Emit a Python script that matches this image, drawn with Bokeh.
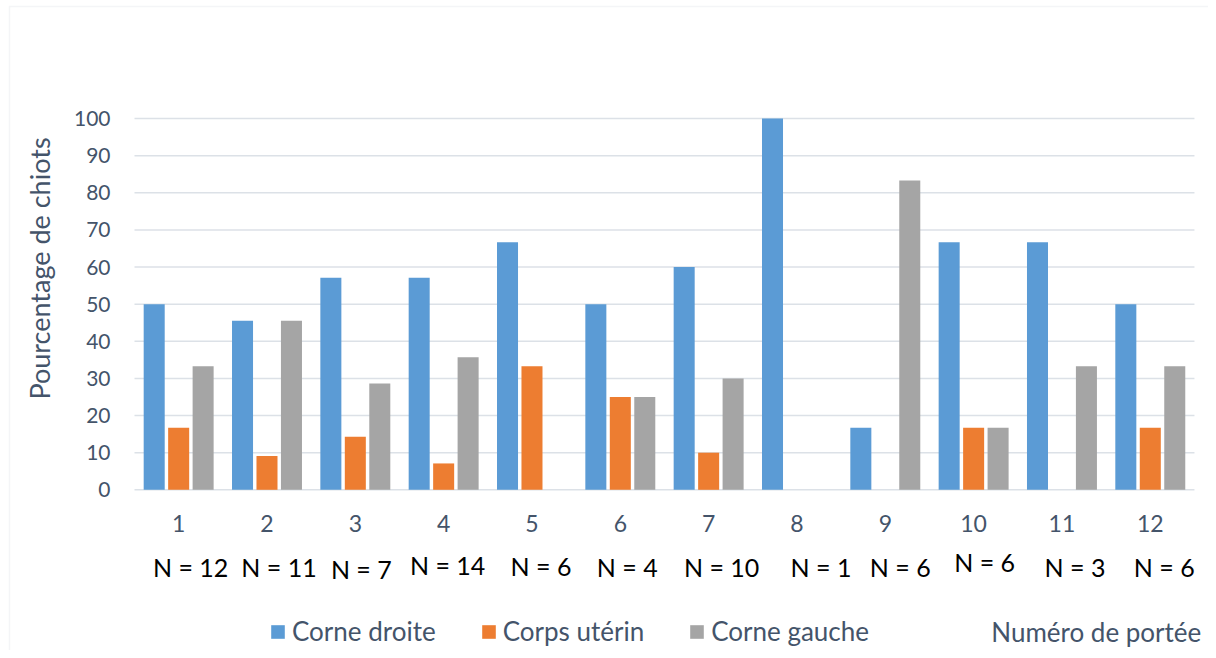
import math
from bokeh.plotting import figure
from bokeh.models import (ColumnDataSource, LabelSet, Label, Legend, LegendItem,
                          Range1d, BoxAnnotation)
from bokeh.core.properties import value
from bokeh.transform import dodge
from bokeh.embed import file_html
from bokeh.resources import INLINE

# ---- data ----
portees = [1, 2, 3, 4, 5, 6, 7, 8, 9, 10, 11, 12]
portee_labels = ["1", "2", "3", "4", "5", "6", "7", "8", "9", "10", "11", "12"]
corne_droite = [50.0, 45.5, 57.1, 57.1, 66.7, 50.0, 60.0, 100.0, 16.7, 66.7, 66.7, 50.0]
corps_uterin = [16.7, 9.1, 14.3, 7.1, 33.3, 25.0, 10.0, 0.0, 0.0, 16.7, 0.0, 16.7]
corne_gauche = [33.3, 45.5, 28.6, 35.7, 0.0, 25.0, 30.0, 0.0, 83.3, 16.7, 33.3, 33.3]
n_labels = ["N = 12", "N = 11", "N = 7", "N = 14", "N = 6", "N = 4",
            "N = 10", "N = 1", "N = 6", "N = 6", "N = 3", "N = 6"]
series_names = ["Corne droite", "Corps utérin", "Corne gauche"]
y_ticks = [0, 10, 20, 30, 40, 50, 60, 70, 80, 90, 100]
y_tick_labels = [str(t) for t in y_ticks]
y_title = "Pourcentage de chiots"
x_title = "Numéro de portée"

# ---- layout / style ----
FONT = "Lato"
TXT = "#44546A"
GRID = "#DCE1E7"
COLORS = ["#5B9BD5", "#ED7D31", "#A5A5A5"]
n_dx = [12, 12, 6, 4, 9, 7, 13, 24, 15, 11, 13, 14]   # px offsets of the N labels
n_dy = [0, 0, -2, 2, 1, 0, 0, 0, 0, 5, 0, 0]

src = ColumnDataSource(dict(
    x=portees, lab=portee_labels, cd=corne_droite, cu=corps_uterin, cg=corne_gauche,
    n=n_labels, ndx=n_dx, ndy=n_dy,
))
tick_src = ColumnDataSource(dict(y=y_ticks, lab=y_tick_labels,
                                 x0=[0.5] * len(y_ticks), x1=[12.5] * len(y_ticks)))

p = figure(width=1208, height=650, output_backend="svg", toolbar_location=None,
           x_range=Range1d(-1.017, 12.659), y_range=Range1d(-43.28, 131.78),
           x_axis_location=None, y_axis_location=None,
           min_border=0, min_border_left=0, min_border_right=0,
           min_border_top=0, min_border_bottom=0)
p.outline_line_color = None
p.background_fill_color = "white"
p.border_fill_color = "white"
p.xgrid.grid_line_color = None
p.ygrid.grid_line_color = None

# outer chart-area border
p.add_layout(BoxAnnotation(left=-0.915, right=20, top=130.16, bottom=-200,
                           fill_alpha=0, line_color="#D9DEE5", line_width=1.5))

# horizontal gridlines (value axis)
p.segment(x0="x0", x1="x1", y0="y", y1="y", source=tick_src,
          line_color=GRID, line_width=1.5)

# value-axis tick labels
p.add_layout(LabelSet(x="x0", y="y", text="lab", source=tick_src, x_offset=-24,
                      text_align="right", text_baseline="middle", text_font=value(FONT),
                      text_font_size="21px", text_color=TXT))
# value-axis title
p.add_layout(Label(x=-0.5755, y=59.6, text=y_title, angle=math.pi / 2,
                   text_align="center", text_baseline="middle", text_font=FONT,
                   text_font_size="27px", text_color=TXT))

bw = 0.238
off = 0.277
r1 = p.vbar(x=dodge("x", -off, range=p.x_range), top="cd", width=bw, source=src,
            fill_color=COLORS[0], line_color=None)
r2 = p.vbar(x=dodge("x", 0.0, range=p.x_range), top="cu", width=bw, source=src,
            fill_color=COLORS[1], line_color=None)
r3 = p.vbar(x=dodge("x", off, range=p.x_range), top="cg", width=bw, source=src,
            fill_color=COLORS[2], line_color=None)

# category labels
p.add_layout(LabelSet(x="x", y=-9.1, text="lab", source=src, text_align="center",
                      text_baseline="middle", text_font=value(FONT), text_font_size="23px",
                      text_color=TXT))
# N labels
p.add_layout(LabelSet(x="x", y=-20.8, text="n", source=src, x_offset="ndx", y_offset="ndy",
                      text_align="center", text_baseline="middle", text_font=value(FONT),
                      text_font_size="25px", text_color="black"))

legend = Legend(items=[LegendItem(label=series_names[i], renderers=[r])
                       for i, r in enumerate([r1, r2, r3])],
                orientation="horizontal", location=(269, 3),
                glyph_width=17, glyph_height=17, label_standoff=6, spacing=44,
                padding=0, margin=0, border_line_color=None, background_fill_alpha=0,
                label_text_font=FONT, label_text_font_size="26px", label_text_color=TXT)
p.add_layout(legend)

p.add_layout(Label(x=10.2, y=-38.4, text=x_title, text_align="left",
                   text_baseline="middle", text_font=FONT, text_font_size="26px",
                   text_color=TXT))

open("out.html", "w").write(file_html(p, INLINE))
